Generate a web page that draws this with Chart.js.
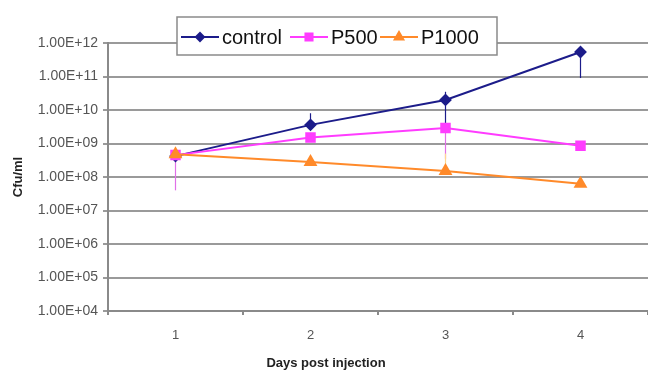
<!DOCTYPE html>
<html>
<head>
<meta charset="utf-8">
<script src="https://cdn.jsdelivr.net/npm/chart.js@4"></script>
<style>
  html, body { margin: 0; padding: 0; background: #fff; overflow: hidden; }
  #wrap { position: relative; width: 648px; height: 372px; }
</style>
</head>
<body>
<div id="wrap"><canvas id="chart"></canvas></div>
<script>
const days = ["1", "2", "3", "4"]
const yTicks = [1e4, 1e5, 1e6, 1e7, 1e8, 1e9, 1e10, 1e11, 1e12]
const xTitle = 'Days post injection'

const control = [4.2e8, 3.6e9, 2.0e10, 5.4e11]
const p500 = [4.5e8, 1.5e9, 2.9e9, 8.5e8]
const p1000 = [4.8e8, 2.8e8, 1.5e8, 6.3e7]

// error bar ends (null = none)
const controlLow = [null, null, 2.9e9, 9e10]
const controlHigh = [null, 8e9, 3.5e10, null]
const p500Low = [4e7, null, 3.5e8, null]
const p500High = [null, null, null, null]
const p1000Low = [null, null, null, null]
const p1000High = [null, null, 5e8, null]

const navy = '#1c1c8a'
const magenta = '#ff3cff'
const orange = '#ff8a2a'

const errorBars = {
  id: 'errorBars',
  beforeDatasetsDraw(chart) {
    const { ctx, scales: { y } } = chart
    const ends = [[controlLow, controlHigh], [p500Low, p500High], [p1000Low, p1000High]]
    ctx.save()
    chart.data.datasets.forEach((ds, i) => {
      const meta = chart.getDatasetMeta(i)
      const vals = ds.data
      ctx.strokeStyle = ds.errColor
      ctx.lineWidth = 1.2
      meta.data.forEach((pt, j) => {
        const yc = y.getPixelForValue(vals[j])
        ;[ends[i][0][j], ends[i][1][j]].forEach(e => {
          if (e == null) return
          const ye = y.getPixelForValue(e)
          ctx.beginPath()
          ctx.moveTo(pt.x, yc)
          ctx.lineTo(pt.x, ye)
          ctx.stroke()
        })
      })
    })
    ctx.restore()
  }
}

// legend box sits over the top of the plot, like the original
const legendBox = {
  id: 'legendBox',
  afterDraw(chart) {
    const ctx = chart.ctx
    ctx.save()
    ctx.fillStyle = '#fff'
    ctx.fillRect(177, 17, 320, 38)
    ctx.strokeStyle = '#8a8a8a'
    ctx.lineWidth = 1.5
    ctx.strokeRect(177, 17, 320, 38)
    ctx.font = '20px "Liberation Sans", Arial, sans-serif'
    ctx.textBaseline = 'middle'
    const items = [
      { ds: chart.data.datasets[0], x: 181 },
      { ds: chart.data.datasets[1], x: 290 },
      { ds: chart.data.datasets[2], x: 380 }
    ]
    const yMid = 37
    items.forEach(it => {
      const ds = it.ds
      ctx.strokeStyle = ds.borderColor
      ctx.lineWidth = 2
      ctx.beginPath()
      ctx.moveTo(it.x, yMid)
      ctx.lineTo(it.x + 38, yMid)
      ctx.stroke()
      ctx.fillStyle = ds.borderColor
      Chart.helpers.drawPoint(ctx, {
        pointStyle: ds.pointStyle, radius: ds.pointRadius - 1, borderWidth: 1
      }, it.x + 19, yMid)
      ctx.fillStyle = '#111'
      ctx.fillText(ds.label, it.x + 41, yMid + 1)
    })

    // x axis title, set left of the plot centre as in the original
    ctx.font = 'bold 13px "Liberation Sans", Arial, sans-serif'
    ctx.fillStyle = '#222'
    ctx.textAlign = 'center'
    ctx.fillText(xTitle, 326, 363)
    ctx.restore()
  }
}

const ctx = document.getElementById('chart').getContext('2d')
new Chart(ctx, {
  type: 'line',
  data: {
    labels: days,
    datasets: [
      {
        label: 'control', data: control, order: 2,
        borderColor: navy, backgroundColor: navy, errColor: navy,
        borderWidth: 2, pointStyle: 'rectRot', pointRadius: 5, tension: 0
      },
      {
        label: 'P500', data: p500, order: 1,
        borderColor: magenta, backgroundColor: magenta, errColor: '#e070e8',
        borderWidth: 2, pointStyle: 'rect', pointRadius: 6, tension: 0
      },
      {
        label: 'P1000', data: p1000, order: 0,
        borderColor: orange, backgroundColor: orange, errColor: '#ffd890',
        borderWidth: 2, pointStyle: 'triangle', pointRadius: 6, tension: 0
      }
    ]
  },
  options: {
    responsive: true,
    maintainAspectRatio: false,
    animation: false,
    layout: { autoPadding: false, padding: { top: 43, right: 0, left: 0, bottom: 0 } },
    plugins: {
      legend: { display: false },
      tooltip: { enabled: false }
    },
    scales: {
      x: {
        offset: true,
        grid: { drawOnChartArea: false, offset: true, tickLength: 4, color: '#8a8a8a', lineWidth: 2 },
        border: { color: '#8a8a8a', width: 2 },
        ticks: { color: '#555', font: { size: 13, family: '"Liberation Sans", Arial' }, padding: 13 },
        afterFit(scale) {
          scale.height = 61
          scale.paddingLeft = 0
          scale.paddingRight = 0
        }
      },
      y: {
        type: 'logarithmic',
        min: 1e4,
        max: 1e12,
        afterBuildTicks(scale) { scale.ticks = yTicks.map(v => ({ value: v })) },
        grid: { color: '#9a9a9a', lineWidth: 2, tickLength: 5 },
        border: { color: '#8a8a8a', width: 2 },
        ticks: {
          color: '#555', font: { size: 14, family: '"Liberation Sans", Arial' }, padding: 5,
          callback: function(value) {
            const e = Math.round(Math.log10(value))
            return '1.00E+' + String(e).padStart(2, '0')
          }
        },
        title: {
          display: true, text: 'Cfu/ml', color: '#222',
          font: { size: 13, weight: 'bold', family: '"Liberation Sans", Arial' },
          padding: { top: 11, bottom: 0 }
        },
        afterFit(scale) {
          scale.width = 108
          scale.paddingTop = 0
          scale.paddingBottom = 0
        }
      }
    }
  },
  plugins: [errorBars, legendBox]
})
</script>
</body>
</html>
